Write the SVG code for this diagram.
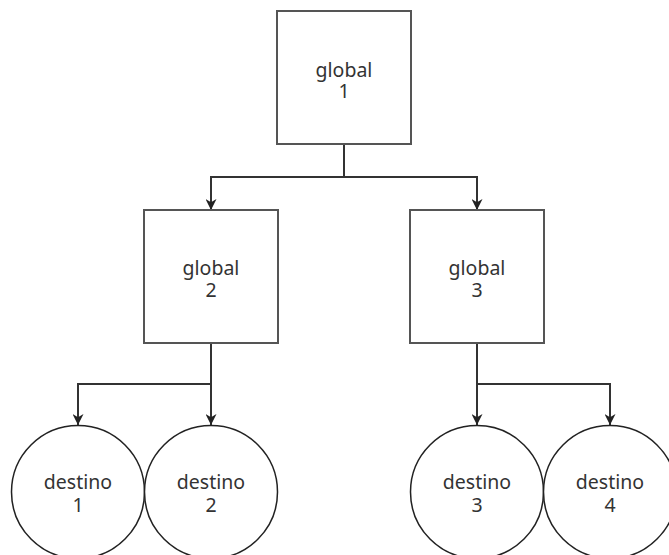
<svg xmlns="http://www.w3.org/2000/svg" width="669" height="555" viewBox="0 0 669 555">
<defs>
<style>
.box{fill:#fff;stroke:#555;stroke-width:2}
.circ{fill:#fff;stroke:#222;stroke-width:1.5}
.edge{fill:none;stroke:#333;stroke-width:2}
.lbl{font-family:"Noto Sans","Open Sans",sans-serif;font-size:19.5px;fill:#333;text-anchor:middle}
</style>
<marker id="arr" viewBox="0 0 10 10" refX="10" refY="5" markerWidth="5.5" markerHeight="5.5" orient="auto" markerUnits="strokeWidth">
<path d="M0,0 L10,5 L0,10 L3,5 z" fill="#222"/>
</marker>
</defs>
<rect width="669" height="555" fill="#fff"/>
<g id="connectors">
<path class="edge" d="M344,144 V177 H211 V210" marker-end="url(#arr)"/>
<path class="edge" d="M344,177 H477 V210" marker-end="url(#arr)"/>
<path class="edge" d="M211,343 V384 H78 V425" marker-end="url(#arr)"/>
<path class="edge" d="M211,384 V425" marker-end="url(#arr)"/>
<path class="edge" d="M477,343 V425" marker-end="url(#arr)"/>
<path class="edge" d="M477,384 H610 V425" marker-end="url(#arr)"/>
</g>
<g id="global1">
<rect class="box" x="277" y="11" width="134" height="133"/>
<text class="lbl" x="344" y="77">global</text>
<text class="lbl" x="344" y="98">1</text>
</g>
<g id="global2">
<rect class="box" x="144" y="210" width="134" height="133"/>
<text class="lbl" x="211" y="275">global</text>
<text class="lbl" x="211" y="297">2</text>
</g>
<g id="global3">
<rect class="box" x="410" y="210" width="134" height="133"/>
<text class="lbl" x="477" y="275">global</text>
<text class="lbl" x="477" y="297">3</text>
</g>
<g id="destino1">
<circle class="circ" cx="78" cy="492" r="66.5"/>
<text class="lbl" x="78" y="489">destino</text>
<text class="lbl" x="78" y="512">1</text>
</g>
<g id="destino2">
<circle class="circ" cx="211" cy="492" r="66.5"/>
<text class="lbl" x="211" y="489">destino</text>
<text class="lbl" x="211" y="512">2</text>
</g>
<g id="destino3">
<circle class="circ" cx="477" cy="492" r="66.5"/>
<text class="lbl" x="477" y="489">destino</text>
<text class="lbl" x="477" y="512">3</text>
</g>
<g id="destino4">
<circle class="circ" cx="610" cy="492" r="66.5"/>
<text class="lbl" x="610" y="489">destino</text>
<text class="lbl" x="610" y="512">4</text>
</g>
</svg>
